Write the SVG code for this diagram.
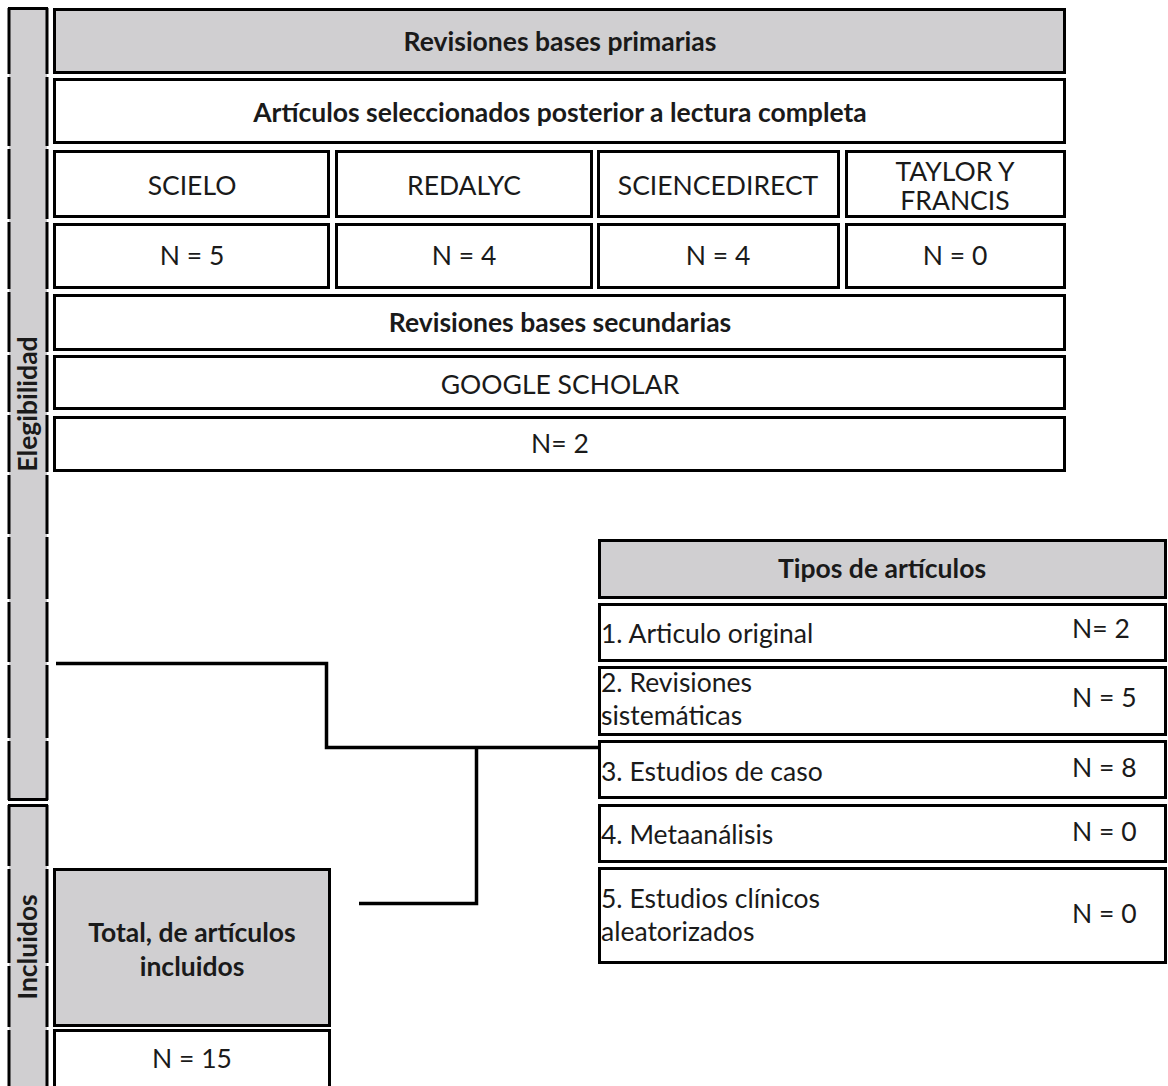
<svg xmlns="http://www.w3.org/2000/svg" width="1168" height="1086" viewBox="0 0 1168 1086">
<style>
.c{fill:#fff;stroke:#000;stroke-width:3}
.g{fill:#d0cfd1;stroke:#000;stroke-width:3}
.t{font-family:Lato,"Liberation Sans",sans-serif;font-size:26.5px;fill:#1a1a1a}
.b{font-weight:bold}
.m{text-anchor:middle}
.vl{stroke:#000;stroke-width:3}
.cn{fill:none;stroke:#000;stroke-width:3.5}
</style>
<g id="side-elegibilidad">
<rect x="9" y="8" width="38" height="792" fill="#d0cfd1"/>
<path class="vl" d="M9 8V74M47 8V74M9 77V146M47 77V146M9 149V219M47 149V219M9 222V289M47 222V289M9 292V352M47 292V352M9 355V412M47 355V412M9 415V472M47 415V472M9 475V534M47 475V534M9 537V599M47 537V599M9 602V662M47 602V662M9 665V738M47 665V738M9 741V800M47 741V800"/>
<path class="vl" d="M8 8.5H48M8 799.5H48"/>
<text class="t b m" transform="translate(37 404) rotate(-90)">Elegibilidad</text>
</g>
<g id="side-incluidos">
<rect x="9" y="805" width="38" height="281" fill="#d0cfd1"/>
<path class="vl" d="M9 805V866M47 805V866M9 869V963M47 869V963M9 966V1027M47 966V1027M9 1030V1086M47 1030V1086"/>
<path class="vl" d="M8 805.5H48"/>
<text class="t b m" transform="translate(37 947) rotate(-90)">Incluidos</text>
</g>
<g id="primarias">
<rect class="g" x="54.5" y="9.5" width="1010" height="63"/>
<text class="t b m" x="560" y="51">Revisiones bases primarias</text>
</g>
<g id="seleccionados">
<rect class="c" x="54.5" y="79.5" width="1010" height="63"/>
<text class="t b m" x="560" y="122">Artículos seleccionados posterior a lectura completa</text>
</g>
<g id="scielo">
<rect class="c" x="54.5" y="151.5" width="274" height="65"/>
<text class="t m" x="192" y="195">SCIELO</text>
</g>
<g id="redalyc">
<rect class="c" x="336.5" y="151.5" width="255" height="65"/>
<text class="t m" x="464" y="195">REDALYC</text>
</g>
<g id="sciencedirect">
<rect class="c" x="598.5" y="151.5" width="240" height="65"/>
<text class="t m" x="718" y="195">SCIENCEDIRECT</text>
</g>
<g id="taylor">
<rect class="c" x="846.5" y="151.5" width="218" height="65"/>
<text class="t m" x="955" y="181">TAYLOR Y</text>
<text class="t m" x="955" y="210">FRANCIS</text>
</g>
<g id="n-scielo">
<rect class="c" x="54.5" y="224.5" width="274" height="63"/>
<text class="t m" x="192" y="265">N = 5</text>
</g>
<g id="n-redalyc">
<rect class="c" x="336.5" y="224.5" width="255" height="63"/>
<text class="t m" x="464" y="265">N = 4</text>
</g>
<g id="n-sciencedirect">
<rect class="c" x="598.5" y="224.5" width="240" height="63"/>
<text class="t m" x="718" y="265">N = 4</text>
</g>
<g id="n-taylor">
<rect class="c" x="846.5" y="224.5" width="218" height="63"/>
<text class="t m" x="955" y="265">N = 0</text>
</g>
<g id="secundarias">
<rect class="c" x="54.5" y="295.5" width="1010" height="54"/>
<text class="t b m" x="560" y="332">Revisiones bases secundarias</text>
</g>
<g id="google">
<rect class="c" x="54.5" y="356.5" width="1010" height="52"/>
<text class="t m" x="560" y="394">GOOGLE SCHOLAR</text>
</g>
<g id="n-google">
<rect class="c" x="54.5" y="417.5" width="1010" height="53"/>
<text class="t m" x="560" y="453">N= 2</text>
</g>
<g id="tipos">
<rect class="g" x="599.5" y="540.5" width="566" height="57"/>
<text class="t b m" x="882" y="578">Tipos de artículos</text>
</g>
<g id="tipo1">
<rect class="c" x="599.5" y="604.5" width="566" height="56"/>
<text class="t" x="601" y="643">1. Articulo original</text>
<text class="t" x="1072" y="638">N= 2</text>
</g>
<g id="tipo2">
<rect class="c" x="599.5" y="667.5" width="566" height="67"/>
<text class="t" x="601" y="692">2. Revisiones</text>
<text class="t" x="601" y="725">sistemáticas</text>
<text class="t" x="1072" y="707">N = 5</text>
</g>
<g id="tipo3">
<rect class="c" x="599.5" y="741.5" width="566" height="56"/>
<text class="t" x="601" y="781">3. Estudios de caso</text>
<text class="t" x="1072" y="777">N = 8</text>
</g>
<g id="tipo4">
<rect class="c" x="599.5" y="805.5" width="566" height="56"/>
<text class="t" x="601" y="844">4. Metaanálisis</text>
<text class="t" x="1072" y="841">N = 0</text>
</g>
<g id="tipo5">
<rect class="c" x="599.5" y="868.5" width="566" height="94"/>
<text class="t" x="601" y="908">5. Estudios clínicos</text>
<text class="t" x="601" y="941">aleatorizados</text>
<text class="t" x="1072" y="923">N = 0</text>
</g>
<g id="total">
<rect class="g" x="54.5" y="869.5" width="275" height="156"/>
<text class="t b m" x="192" y="942">Total, de artículos</text>
<text class="t b m" x="192" y="976">incluidos</text>
</g>
<g id="n-total">
<rect class="c" x="54.5" y="1030.5" width="275" height="60"/>
<text class="t m" x="192" y="1068">N = 15</text>
</g>
<g id="connectors">
<path class="cn" d="M56 663.5H326.5V747.5H598"/>
<path class="cn" d="M476.5 747.5V903.5H359"/>
</g>
</svg>
